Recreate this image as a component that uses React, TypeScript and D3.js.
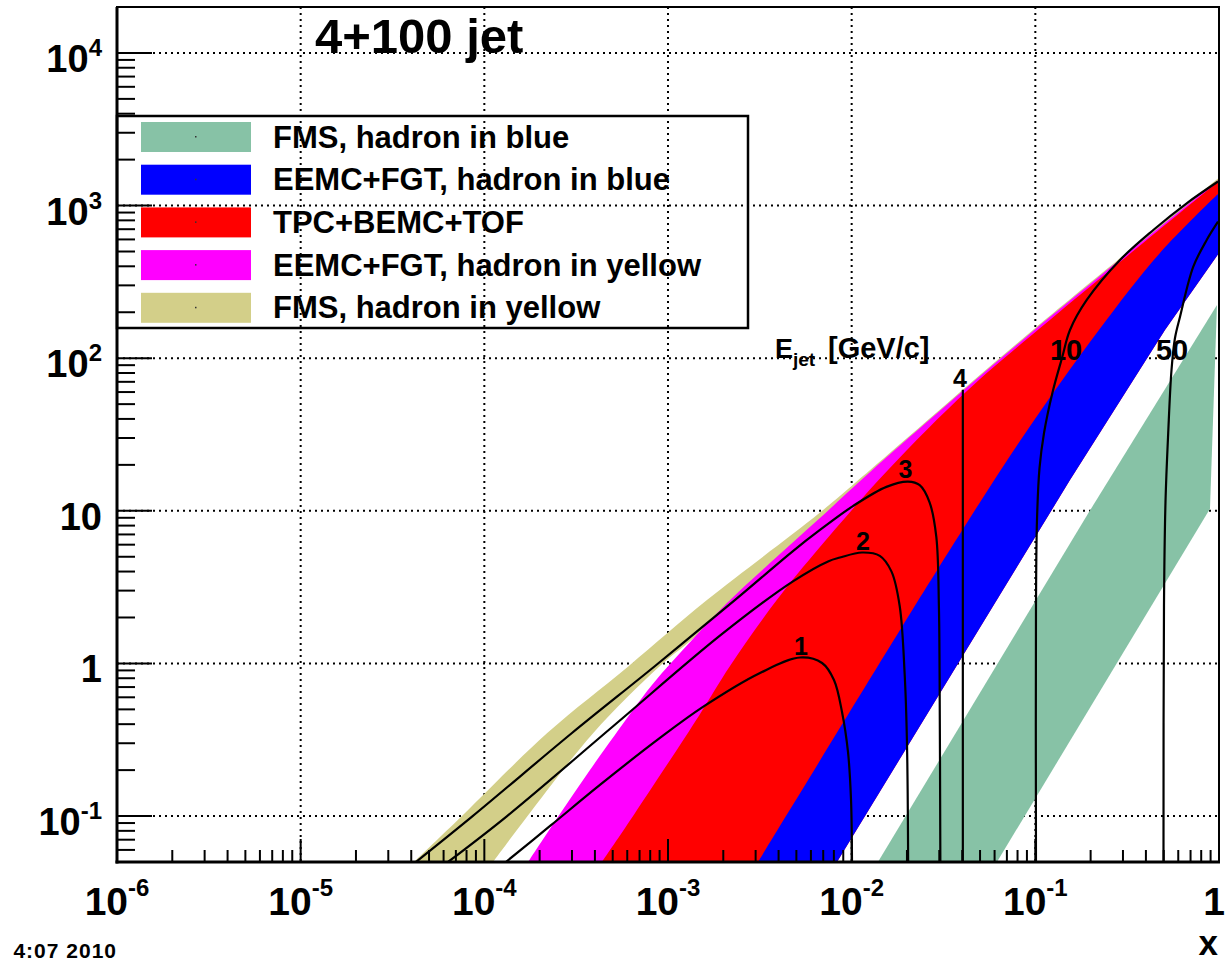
import React from 'react';
import * as d3 from 'd3';

// ---------------- data ----------------
const xTickValues = [1e-6, 1e-5, 1e-4, 1e-3, 1e-2, 1e-1, 1];
const xTickBase = ['10', '10', '10', '10', '10', '10', '1'];
const xTickExp = ['-6', '-5', '-4', '-3', '-2', '-1', ''];
const yTickValues = [1e-1, 1, 10, 100, 1e3, 1e4];
const yTickBase = ['10', '1', '10', '10', '10', '10'];
const yTickExp = ['-1', '', '', '2', '3', '4'];

const legendNames = [
  'FMS, hadron in blue',
  'EEMC+FGT, hadron in blue',
  'TPC+BEMC+TOF',
  'EEMC+FGT, hadron in yellow',
  'FMS, hadron in yellow',
];
const legendColors = ['#87c2a6', '#0000ff', '#ff0000', '#ff00ff', '#d3cf89'];

// FMS, hadron in yellow (khaki)
const fmsYellowUpperX = [4.14e-5, 7.1e-5, 2.2e-4, 6.1e-4, 1.63e-3, 6.7e-3, 0.0126, 0.097, 1.0];
const fmsYellowUpperY = [0.05, 0.093, 0.35, 0.96, 2.6, 9.7, 18.5, 153, 1520];
const fmsYellowLowerX = [1.115e-4, 1.707e-4, 3.91e-4, 9.04e-4, 1.49e-3, 4.62e-3, 0.0126, 1.0];
const fmsYellowLowerY = [0.05, 0.099, 0.349, 0.962, 1.58, 5.71, 17.4, 1450];

// EEMC+FGT, hadron in yellow (magenta) upper edge
const eemcYellowUpperX = [1.73e-4, 2.52e-4, 3.76e-4, 5.14e-4, 8.18e-4, 1.351e-3, 2.095e-3, 3.59e-3, 6.72e-3, 0.0126, 0.0966, 1.0];
const eemcYellowUpperY = [0.05, 0.099, 0.2005, 0.34, 0.7226, 1.424, 2.489, 4.55, 8.97, 17.96, 149.6, 1482];

// TPC+BEMC+TOF (red) upper edge
const tpcUpperX = [4.37e-4, 6.21e-4, 1.475e-3, 2.176e-3, 3.92e-3, 6.72e-3, 0.01577, 0.043, 0.12, 1.0];
const tpcUpperY = [0.05, 0.0934, 0.455, 0.962, 2.61, 5.79, 18.5, 61.9, 178, 1450];

// EEMC+FGT, hadron in blue (blue)
const eemcBlueUpperX = [3.09e-3, 0.01833, 0.0289, 0.0825, 0.222, 0.477, 1.0];
const eemcBlueUpperY = [0.05, 1.656, 4.01, 28.7, 153, 489, 1209];
const eemcBlueLowerX = [8.32e-3, 0.1544, 0.508, 1.0];
const eemcBlueLowerY = [0.05, 15.9, 153, 489];

// FMS, hadron in blue (green)
const fmsBlueUpperX = [0.0139, 0.196, 0.975];
const fmsBlueUpperY = [0.05, 9.82, 223];
const fmsBlueLowerX = [0.0618, 0.893, 0.975];
const fmsBlueLowerY = [0.05, 10.3, 223];

// E_jet curves
const e1X = [1.31e-4, 2.28e-4, 4.26e-4, 9.04e-4, 1.55e-3, 3.17e-3, 5.23e-3, 6.9e-3, 8.01e-3, 8.86e-3, 9.55e-3, 9.92e-3, 1.004e-2];
const e1Y = [0.05, 0.0861, 0.16, 0.325, 0.519, 0.866, 1.094, 1.007, 0.779, 0.481, 0.263, 0.1274, 0.05];
const e2X = [6.34e-5, 1.33e-4, 5.08e-4, 1.94e-3, 4.79e-3, 7.49e-3, 8.64e-3, 0.01138, 0.01423, 0.01646, 0.01826, 0.01944, 0.02001, 0.0203];
const e2Y = [0.05, 0.1, 0.392, 1.537, 3.45, 4.68, 4.94, 5.33, 5.07, 4.01, 2.38, 0.843, 0.298, 0.05];
const e3X = [4.24e-5, 8.57e-5, 3.0e-4, 8.5e-4, 2.32e-3, 4.79e-3, 6.72e-3, 0.0102, 0.01546, 0.02026, 0.02347, 0.02656, 0.0289, 0.02985, 0.03011, 0.0304];
const e3Y = [0.05, 0.0991, 0.35, 0.962, 2.61, 5.45, 7.49, 10.77, 14.35, 15.52, 14.72, 11.36, 6.75, 2.38, 0.843, 0.05];
const e4X = [0.0403, 0.0403];
const e4Y = [62, 0.05];
const e10X = [0.1008, 0.1008, 0.1021, 0.1054, 0.1115, 0.1242, 0.1397, 0.1544, 0.1905, 0.2891, 0.4388, 0.6669, 0.9876];
const e10Y = [0.05, 2.24, 8.71, 19.09, 32.35, 60.05, 100.3, 153, 240.6, 440, 691.8, 1035, 1438];
const e50X = [0.4986, 0.5017, 0.5113, 0.529, 0.5513, 0.5759, 0.6135, 0.7245, 0.857, 0.9876];
const e50Y = [0.05, 2.38, 11.43, 32.35, 83.7, 135.6, 187, 397.6, 594.9, 784];

const curveLabels = ['1', '2', '3', '4', '10', '50'];
const curveLabelX = [5.3e-3, 0.01152, 0.01964, 0.0389, 0.147, 0.555];
const curveLabelY = [1.136, 5.54, 16.4, 64.8, 97.3, 97.3];

const FONT = "'Liberation Sans', Arial, Helvetica, sans-serif";

export default function App() {
  const left = 117, right = 1219, top = 7, bottom = 862;
  const x = d3.scaleLog().domain([1e-6, 1]).range([left, right]);
  const y = d3.scaleLog().domain([0.05, 2e4]).range([bottom, top]);

  type P = [number, number];
  const pts = (xs: number[], ys: number[]) => xs.map((v, i) => [x(v), y(ys[i])] as P);
  const lin = d3.line();
  const smooth = d3.line().curve(d3.curveCatmullRom.alpha(0.5));
  const edge = (p: P[], sm: boolean) => (sm ? smooth(p) : lin(p)) || '';
  const band = (ux: number[], uy: number[], su: boolean, lx: number[], ly: number[], sl: boolean) => {
    const up = edge(pts(ux, uy), su);
    const lo = edge(pts(lx, ly).reverse(), sl);
    return up + 'L' + lo.slice(1) + 'Z';
  };

  const xMinor: number[] = [];
  for (let e = -6; e < 0; e++) for (let m = 2; m <= 9; m++) xMinor.push(m * Math.pow(10, e));
  const yMinor: number[] = [];
  for (let e = -2; e <= 4; e++)
    for (let m = 2; m <= 9; m++) {
      const v = m * Math.pow(10, e);
      if (v >= 0.05 && v <= 2e4) yMinor.push(v);
    }

  const curves = [
    [e1X, e1Y], [e2X, e2Y], [e3X, e3Y], [e4X, e4Y], [e10X, e10Y], [e50X, e50Y],
  ];

  const legendRowY = (i: number) => 137 + i * 42.7;

  return (
    <svg width={1226} height={963} style={{ position: 'absolute', left: 0, top: 0, background: '#fff' }}
      fontFamily={FONT} fontWeight="bold">
      <defs>
        <clipPath id="plot"><rect x={left} y={top} width={right - left} height={bottom - top} /></clipPath>
      </defs>
      <rect x={0} y={0} width={1226} height={963} fill="#fff" />

      {/* grid */}
      <g stroke="#000" strokeWidth={2} strokeDasharray="2,4">
        {xTickValues.map((v, i) => (
          <line key={'gx' + i} x1={x(v)} x2={x(v)} y1={top} y2={bottom} />
        ))}
        {yTickValues.map((v, i) => (
          <line key={'gy' + i} x1={left} x2={right} y1={y(v)} y2={y(v)} />
        ))}
      </g>

      {/* bands */}
      <g clipPath="url(#plot)">
        <path d={band(fmsYellowUpperX, fmsYellowUpperY, true, fmsYellowLowerX, fmsYellowLowerY, true)} fill={legendColors[4]} />
        <path d={band(eemcYellowUpperX, eemcYellowUpperY, true, eemcBlueUpperX, eemcBlueUpperY, true)} fill={legendColors[3]} />
        <path d={band(tpcUpperX, tpcUpperY, true, eemcBlueLowerX, eemcBlueLowerY, false)} fill={legendColors[2]} />
        <path d={band(eemcBlueUpperX, eemcBlueUpperY, true, eemcBlueLowerX, eemcBlueLowerY, false)} fill={legendColors[1]} />
        <path d={band(fmsBlueUpperX, fmsBlueUpperY, false, fmsBlueLowerX, fmsBlueLowerY, false)} fill={legendColors[0]} />
        {curves.map(([cx, cy], i) => (
          <path key={'c' + i} d={smooth(pts(cx, cy)) || ''} fill="none" stroke="#000" strokeWidth={2.2} />
        ))}
      </g>

      {/* curve labels */}
      {curveLabels.map((t, i) => (
        <text key={'cl' + i} x={x(curveLabelX[i])} y={y(curveLabelY[i])} textAnchor="middle"
          fontSize={i < 4 ? 25 : 29}>{t}</text>
      ))}
      <text x={775} y={358} fontSize={27}>E</text>
      <text x={793} y={366} fontSize={19}>jet</text>
      <text x={828} y={358} fontSize={29}>[GeV/c]</text>

      {/* legend */}
      <rect x={left} y={116} width={748 - left} height={328 - 116} fill="none" stroke="#000" strokeWidth={2.5} />
      {legendNames.map((n, i) => (
        <g key={'lg' + i}>
          <rect x={141} y={legendRowY(i) - 15} width={110} height={30} fill={legendColors[i]} />
          <rect x={195} y={legendRowY(i) - 1} width={1.5} height={1.5} fill="#333" />
          <text x={273} y={legendRowY(i) + 10.5} fontSize={31}>{n}</text>
        </g>
      ))}

      {/* frame */}
      <rect x={left} y={top} width={right - left} height={bottom - top} fill="none" stroke="#000" strokeWidth={2} />
      <line x1={left} x2={left} y1={top} y2={bottom + 1.5} stroke="#000" strokeWidth={3} />
      <line x1={left - 1.5} x2={right + 1} y1={bottom} y2={bottom} stroke="#000" strokeWidth={3} />

      {/* ticks */}
      <g stroke="#000" strokeWidth={2}>
        {xTickValues.map((v, i) => (
          <line key={'xt' + i} x1={x(v)} x2={x(v)} y1={bottom} y2={bottom - 23} />
        ))}
        {xMinor.map((v, i) => (
          <line key={'xm' + i} x1={x(v)} x2={x(v)} y1={bottom} y2={bottom - 12} />
        ))}
        {yTickValues.map((v, i) => (
          <line key={'yt' + i} x1={left} x2={left + 35} y1={y(v)} y2={y(v)} />
        ))}
        {yMinor.map((v, i) => (
          <line key={'ym' + i} x1={left} x2={left + 18} y1={y(v)} y2={y(v)} />
        ))}
      </g>

      {/* tick labels */}
      {xTickValues.map((v, i) => (
        <text key={'xl' + i} x={i === xTickValues.length - 1 ? x(v) - 5 : x(v)} y={915} textAnchor="middle" fontSize={39}>
          {xTickBase[i]}
          {xTickExp[i] && <tspan dy={-19} fontSize={24}>{xTickExp[i]}</tspan>}
        </text>
      ))}
      {yTickValues.map((v, i) => (
        <text key={'yl' + i} x={102} y={y(v) + 19} textAnchor="end" fontSize={38}>
          {yTickBase[i]}
          {yTickExp[i] && <tspan dy={-16} fontSize={24}>{yTickExp[i]}</tspan>}
        </text>
      ))}

      {/* titles */}
      <text x={315} y={53} fontSize={49}>4+100 jet</text>
      <text x={1218} y={955} textAnchor="end" fontSize={35}>x</text>
      <text x={117} y={958} textAnchor="end" fontSize={21} letterSpacing={1}>4:07 2010</text>
    </svg>
  );
}
